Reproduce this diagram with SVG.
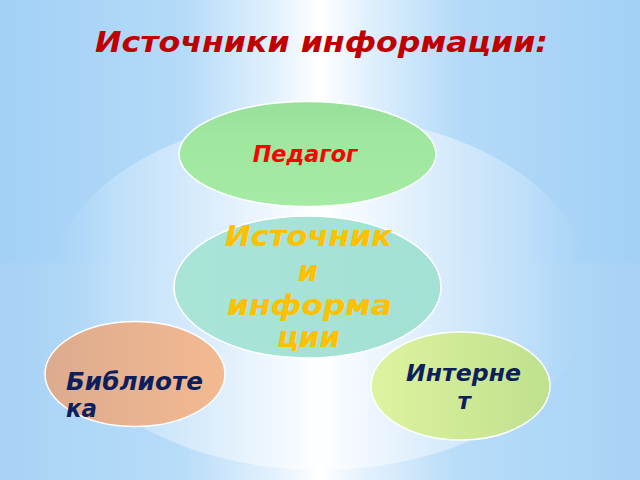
<svg xmlns="http://www.w3.org/2000/svg" width="640" height="480" viewBox="0 0 640 480">
  <defs>
    <linearGradient id="bg" x1="0" y1="0" x2="1" y2="0">
      <stop offset="0" stop-color="#a2d0f6"/>
      <stop offset="0.28" stop-color="#b3daf8"/>
      <stop offset="0.43" stop-color="#e2f1fd"/>
      <stop offset="0.5" stop-color="#ffffff"/>
      <stop offset="0.57" stop-color="#e2f1fd"/>
      <stop offset="0.72" stop-color="#b3daf8"/>
      <stop offset="1" stop-color="#a2d0f6"/>
    </linearGradient>
    <linearGradient id="glow" x1="0" y1="0" x2="1" y2="0">
      <stop offset="0" stop-color="#b0d8f8" stop-opacity="0"/>
      <stop offset="0.12" stop-color="#c2e1fa" stop-opacity="0.8"/>
      <stop offset="0.3" stop-color="#dcedfc"/>
      <stop offset="0.5" stop-color="#ffffff"/>
      <stop offset="0.7" stop-color="#dcedfc"/>
      <stop offset="0.88" stop-color="#c2e1fa" stop-opacity="0.8"/>
      <stop offset="1" stop-color="#b0d8f8" stop-opacity="0"/>
    </linearGradient>
    <linearGradient id="gPed" x1="0" y1="0" x2="0" y2="1">
      <stop offset="0" stop-color="#97e09a"/>
      <stop offset="0.3" stop-color="#9fe69f"/>
      <stop offset="1" stop-color="#a5eba3"/>
    </linearGradient>
    <linearGradient id="gCen" x1="0" y1="0" x2="1" y2="0">
      <stop offset="0" stop-color="#a9e4d7"/>
      <stop offset="1" stop-color="#a2e1d4"/>
    </linearGradient>
    <linearGradient id="gLib" x1="0" y1="0" x2="1" y2="0">
      <stop offset="0" stop-color="#dcab8e"/>
      <stop offset="1" stop-color="#f3ba91"/>
    </linearGradient>
    <linearGradient id="gNet" x1="0" y1="0" x2="1" y2="0">
      <stop offset="0" stop-color="#def39f"/>
      <stop offset="1" stop-color="#bfe08e"/>
    </linearGradient>
  </defs>
  <style>
    .node { stroke: #ffffff; stroke-width: 1.5; }
    .t { font-family: "DejaVu Sans", Verdana, sans-serif; font-weight: bold; font-style: italic; }
    .title { font-size: 29px; fill: #c00000; }
    .ped { font-size: 23px; fill: #ff0000; }
    .cen { font-size: 29px; fill: #ffc000; text-anchor: middle; }
    .dark { font-size: 24px; fill: #0e1f5c; }
    .dark2 { font-size: 23px; fill: #0e1f5c; }
  </style>

  <g id="background">
    <rect x="0" y="0" width="640" height="480" fill="url(#bg)"/>
    <rect x="0" y="263" width="640" height="217" fill="#ffffff" opacity="0.06"/>
    <ellipse cx="320" cy="293" rx="272" ry="177" fill="url(#glow)"/>
  </g>

  <g id="title">
    <text class="t title" x="95" y="52" textLength="453" lengthAdjust="spacingAndGlyphs">Источники информации:</text>
  </g>

  <g id="connectors"></g>

  <g id="node-pedagog">
    <ellipse class="node" cx="307.5" cy="154" rx="128.5" ry="52.5" fill="url(#gPed)"/>
    <text class="t ped" x="252.7" y="161.7" textLength="105" lengthAdjust="spacingAndGlyphs">Педагог</text>
  </g>

  <g id="node-center">
    <ellipse class="node" cx="307.5" cy="287" rx="133.5" ry="71" fill="url(#gCen)"/>
    <text class="t cen" x="308.5" y="246" textLength="167" lengthAdjust="spacingAndGlyphs">Источник</text>
    <text class="t cen" x="308" y="281">и</text>
    <text class="t cen" x="309.5" y="315" textLength="165" lengthAdjust="spacingAndGlyphs">информа</text>
    <text class="t cen" x="308.5" y="347" textLength="63" lengthAdjust="spacingAndGlyphs">ции</text>
  </g>

  <g id="node-library">
    <ellipse class="node" cx="135" cy="374" rx="90" ry="52.5" fill="url(#gLib)"/>
    <text class="t dark" x="66" y="390" textLength="137" lengthAdjust="spacingAndGlyphs">Библиоте</text>
    <text class="t dark" x="66" y="417" textLength="31" lengthAdjust="spacingAndGlyphs">ка</text>
  </g>

  <g id="node-internet">
    <ellipse class="node" cx="460.5" cy="386" rx="89.5" ry="54" fill="url(#gNet)"/>
    <text class="t dark2" x="406" y="381" textLength="115" lengthAdjust="spacingAndGlyphs">Интерне</text>
    <text class="t dark2" x="457.5" y="409">т</text>
  </g>
</svg>
